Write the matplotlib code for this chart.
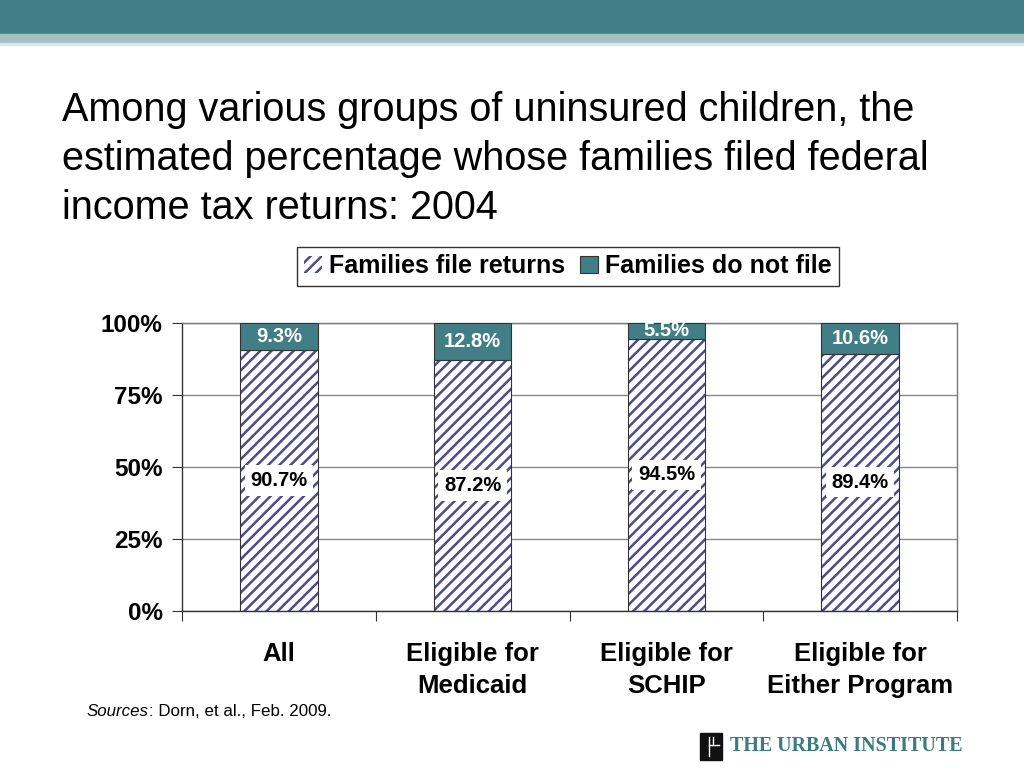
import matplotlib.pyplot as plt
from matplotlib.patches import Rectangle, Patch
from matplotlib.lines import Line2D

# data
categories = ["All", "Eligible for\nMedicaid", "Eligible for\nSCHIP", "Eligible for\nEither Program"]
file_returns = [90.7, 87.2, 94.5, 89.4]
do_not_file = [9.3, 12.8, 5.5, 10.6]
y_ticks = [0, 25, 50, 75, 100]

teal = "#427E85"
navy = "#4B4B8F"

plt.rcParams['font.family'] = ['Liberation Sans', 'DejaVu Sans']
plt.rcParams['hatch.linewidth'] = 1.8

fig = plt.figure(figsize=(10.24, 7.68), dpi=100)

# header banner
fig.patches.append(Rectangle((0, 1 - 34/768), 1, 34/768, transform=fig.transFigure,
                             color=teal, zorder=0))
fig.patches.append(Rectangle((0, 1 - 43/768), 1, 9/768, transform=fig.transFigure,
                             color="#A6BFC3", zorder=0))
fig.patches.append(Rectangle((0, 1 - 45/768), 1, 2/768, transform=fig.transFigure,
                             color="#D8E8E8", zorder=0))

fig.text(62/1024, 1 - 91/768,
         "Among various groups of uninsured children, the\n"
         "estimated percentage whose families filed federal\n"
         "income tax returns: 2004",
         fontsize=28.5, va="top", ha="left", linespacing=1.37)

ax = fig.add_axes([182/1024, 1 - 611/768, 775/1024, 288/768])
x = range(len(categories))
w = 0.4

ax.bar(x, file_returns, w, color="white", edgecolor=navy, linewidth=0, hatch="///", zorder=2)
ax.bar(x, file_returns, w, fill=False, edgecolor="#333333", linewidth=0.8, zorder=3)
ax.bar(x, do_not_file, w, bottom=file_returns, color=teal, edgecolor="#333333",
       linewidth=0.8, zorder=3)

for i in x:
    ax.text(i, file_returns[i] / 2, f"{file_returns[i]:.1f}%", ha="center", va="center",
            fontsize=14.5, fontweight="bold", zorder=5,
            bbox=dict(facecolor="white", edgecolor="none", pad=4))
    ax.text(i, file_returns[i] + do_not_file[i] / 2, f"{do_not_file[i]:.1f}%", ha="center",
            va="center", fontsize=14.5, fontweight="bold", color="white", zorder=5)

ax.set_xlim(-0.5, len(categories) - 0.5)
ax.set_ylim(0, 100)
ax.set_yticks(y_ticks)
ax.set_yticklabels([f"{t}%" for t in y_ticks], fontsize=17.5, fontweight="bold")
ax.yaxis.grid(True, color="#888888", linewidth=1, zorder=0)
ax.set_axisbelow(True)

ax.set_xticks([i - 0.5 for i in range(len(categories) + 1)])
ax.set_xticklabels([])
ax.set_xticks(list(x), minor=True)
ax.set_xticklabels(categories, minor=True, fontsize=18.5, fontweight="bold", linespacing=1.42)
ax.tick_params(axis="x", which="minor", length=0, pad=22)
ax.tick_params(axis="x", which="major", length=7, direction="out", color="#333333")
ax.tick_params(axis="y", length=7, direction="out", color="#333333", pad=7)
for s in ax.spines.values():
    s.set_color("#333333")
    s.set_linewidth(1)
ax.spines["top"].set_color("#777777")
ax.spines["right"].set_color("#777777")

handles = [Patch(facecolor="white", edgecolor=navy, hatch="///", linewidth=0),
           Patch(facecolor=teal, edgecolor="#333333", linewidth=0.8)]
leg = fig.legend(handles, ["Families file returns", "Families do not file"], ncol=2,
                 loc="center", bbox_to_anchor=(568/1024, 1 - 266/768),
                 prop=dict(size=18, weight="bold"), handlelength=0.7, handleheight=0.7,
                 handletextpad=0.3, columnspacing=0.6, borderpad=0.3, borderaxespad=0,
                 frameon=True, fancybox=False, edgecolor="black")
leg.get_frame().set_linewidth(1)

src = fig.text(87/1024, 1 - 711/768, "Sources", fontsize=12.2, style="italic", va="center")
ax.annotate(": Dorn, et al., Feb. 2009.", xy=(1, 0.5), xycoords=src, fontsize=12.2,
            va="center", ha="left", annotation_clip=False)

# logo
fig.patches.append(Rectangle((700/1024, 1 - 760/768), 22/1024, 27/768,
                             transform=fig.transFigure, color="#111111"))
for (x0, y0, x1, y1) in [(709, 737, 709, 756), (709, 745, 719, 745), (713, 737, 713, 745)]:
    fig.lines.append(Line2D([x0/1024, x1/1024], [1 - y0/768, 1 - y1/768],
                            transform=fig.transFigure, color="white", linewidth=1))
fig.text(730/1024, 1 - 746/768, "THE URBAN INSTITUTE", family="Liberation Serif",
         fontsize=14.4, fontweight="bold", color="#3A7A80", va="center")

fig.savefig("out.png", dpi=100)
